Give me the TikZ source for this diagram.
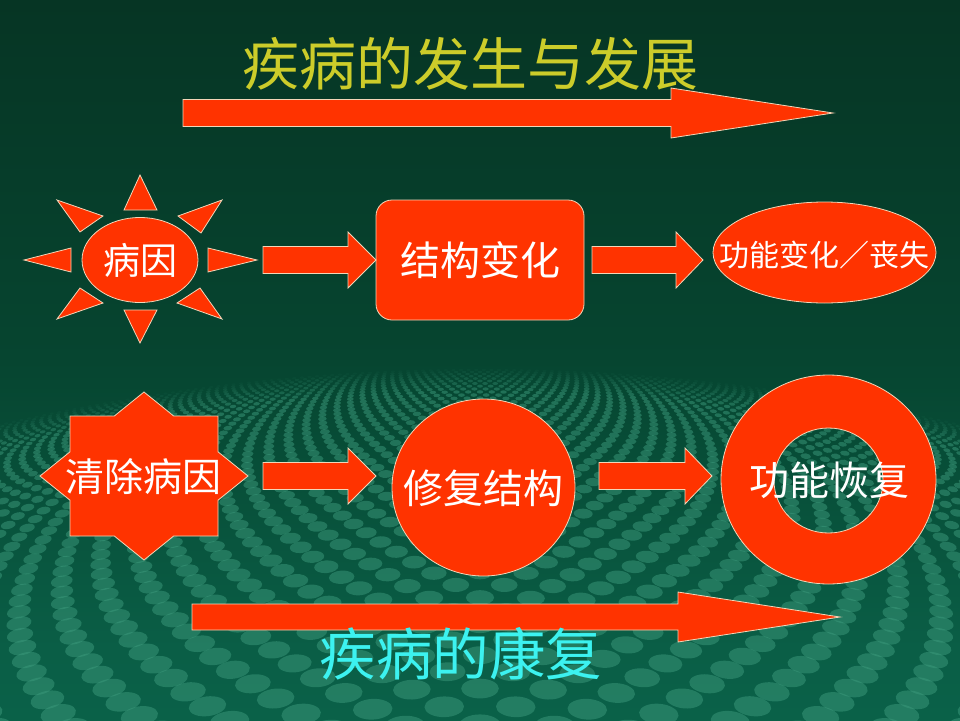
\documentclass[tikz,border=0pt]{standalone}
\usepackage{fontspec}
\newfontfamily\cjk{Noto Sans CJK SC}
\usetikzlibrary{shapes.geometric}
\definecolor{shapered}{HTML}{FF3300}
\definecolor{edgec}{HTML}{F2D6B8}
\definecolor{titley}{HTML}{CCCC2A}
\definecolor{cyantext}{HTML}{3CF2F0}
\definecolor{dotc}{HTML}{3C9A7C}
\definecolor{bga}{HTML}{0B7054}
\definecolor{bgb}{HTML}{0A5E46}
\definecolor{bgc}{HTML}{064530}
\definecolor{bgd}{HTML}{063524}
\definecolor{bge}{HTML}{0A1A10}
\pgfdeclareverticalshading{bgshade}{100bp}{color(0bp)=(bga); color(30bp)=(bgb); color(50bp)=(bgc); color(75bp)=(bgd); color(100bp)=(bge)}
\newcommand{\blockarr}[6]{%
  \path[redshape] (#1,#3-#4) -- (#2-#6,#3-#4) -- (#2-#6,#3-#5) -- (#2,#3) -- (#2-#6,#3+#5) -- (#2-#6,#3+#4) -- (#1,#3+#4) -- cycle;}
\begin{document}
\begin{tikzpicture}[x=1pt,y=-1pt,
  redshape/.style={fill=shapered, draw=edgec, line width=0.8pt},
  lbl/.style={text=white, inner sep=0pt, font=\cjk\fontsize{40}{40}\selectfont},
  bigtitle/.style={inner sep=0pt, font=\cjk\fontsize{57}{57}\selectfont}]
\useasboundingbox (0,0) rectangle (960,720);
\shade[shading=bgshade] (0,0) rectangle (960,720);
% dotted floor
\begin{scope}
\clip (0,0) rectangle (960,720);
\gdef\curY{368}
\foreach \k in {0,...,64}{
  \pgfmathsetmacro\p{0.05*(\curY-350)+1}
  \pgfmathsetmacro\dx{3.8*\p}
  \pgfmathsetmacro\rx{1.05*\p}
  \pgfmathsetmacro\ry{0.55*\p}
  \pgfmathtruncatemacro\N{500/\dx+1}
  \pgfmathtruncatemacro\NN{-\N}
  \pgfmathsetmacro\off{mod(\k,2)*0.5}
  \pgfmathsetmacro\rowop{max(0,min(0.5,\k*0.05))}
  \foreach \i in {\NN,...,\N}{
    \pgfmathsetmacro\xx{480+(\i+\off)*\dx}
    \pgfmathsetmacro\uu{(\xx-480)/480}
    \pgfmathsetmacro\yy{\curY+55*\uu*\uu}
    \pgfmathsetmacro\ang{atan(-110*\uu/480)}
    \fill[dotc, fill opacity=\rowop, rotate around={\ang:(\xx,\yy)}] (\xx,\yy) ellipse [x radius=\rx pt, y radius=\ry pt];
  }
  \pgfmathsetmacro\ny{\curY+\p}
  \xdef\curY{\ny}
}
\end{scope}
% title and top arrow
\node[bigtitle, text=titley] (title) at (470,64) {疾病的发生与发展};
\blockarr{183}{833}{113}{13.5}{25}{162}
% row 1
\path[redshape] (124,210) -- (157,210) -- (140,175) -- cycle;
\path[redshape] (124,310) -- (157,310) -- (140,343) -- cycle;
\path[redshape] (71,248) -- (71,272) -- (24,260) -- cycle;
\path[redshape] (208,248) -- (208,272) -- (257,260) -- cycle;
\path[redshape] (57,200) -- (103,216) -- (80,232) -- cycle;
\path[redshape] (222,200) -- (178,216) -- (201,233) -- cycle;
\path[redshape] (57,319) -- (80,288) -- (103,303) -- cycle;
\path[redshape] (222,319) -- (200,288) -- (177,303) -- cycle;
\node[redshape, ellipse, minimum width=116pt, minimum height=85pt, inner sep=0pt] (cause) at (140,260) {};
\node[lbl, font=\cjk\fontsize{37}{37}\selectfont] at (cause) {病因};
\node[redshape, rectangle, rounded corners=16pt, minimum width=208pt, minimum height=120pt] (struct) at (480,260) {};
\node[lbl] at (struct) {结构变化};
\node[redshape, ellipse, minimum width=223pt, minimum height=101pt, inner sep=0pt] (func) at (824.5,252.5) {};
\node[lbl, font=\cjk\fontsize{30}{30}\selectfont] at (824.5,255) {功能变化／丧失};
\blockarr{263}{376}{260}{13.5}{28}{28}
\blockarr{592}{703}{260}{13.5}{28}{27}
% row 2
\path[redshape] (144,392) -- (173.7,416) -- (218,416) -- (218,451.8) -- (248,476) -- (218,500.2) -- (218,536) -- (173.7,536) -- (144,560) -- (114.3,536) -- (70,536) -- (70,500.2) -- (40,476) -- (70,451.8) -- (70,416) -- (114.3,416) -- cycle;
\node[lbl, font=\cjk\fontsize{39}{39}\selectfont] (clear) at (143,477) {清除病因};
\node[redshape, ellipse, minimum width=183pt, minimum height=177pt, inner sep=0pt] (repair) at (483.5,487.5) {};
\node[lbl] at (483.5,488) {修复结构};
\path[redshape, even odd rule] (828.5,479.5) ellipse [x radius=107.5pt, y radius=104.5pt] (828.5,480.5) ellipse [x radius=54.5pt, y radius=52.5pt];
\node[lbl] (restore) at (829,480) {功能恢复};
\blockarr{263}{376}{476}{13.5}{28}{28}
\blockarr{599}{712}{476}{13.5}{28}{27}
% bottom arrow and text
\blockarr{192}{840}{617}{13}{25}{162}
\node[bigtitle, font=\cjk\fontsize{56.5}{56.5}\selectfont, text=cyantext] (subtitle) at (461,654) {疾病的康复};
\end{tikzpicture}
\end{document}
